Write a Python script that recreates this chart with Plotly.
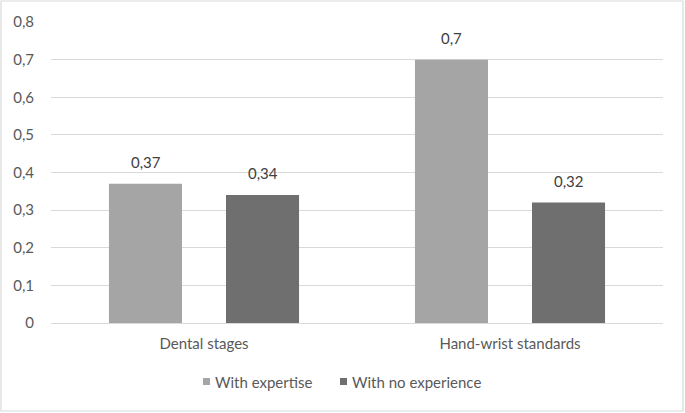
import plotly.graph_objects as go

categories = ["Dental stages", "Hand-wrist standards"]
series_names = ["With expertise", "With no experience"]
with_expertise = [0.37, 0.70]
with_no_experience = [0.34, 0.32]
y_tickvals = [0, 0.1, 0.2, 0.3, 0.4, 0.5, 0.6, 0.7, 0.8]
y_ticktext = ["0", "0,1", "0,2", "0,3", "0,4", "0,5", "0,6", "0,7", "0,8"]

colors = ["#a5a5a5", "#6f6f6f"]
FONT = "Lato, 'Noto Sans', sans-serif"
TXT = "#595959"
FS = 15

W, H = 685, 413
ML, MR, MT, MB = 51, 22, 22, 90
PW, PH = W - ML - MR, H - MT - MB

def px_x(p):
    return (p - ML) / PW

def px_y(p):
    return (H - MB - p) / PH

fig = go.Figure()
for name, vals, col in zip(series_names, [with_expertise, with_no_experience], colors):
    fig.add_trace(go.Bar(x=categories, y=vals, name=name, marker_color=col,
                         marker_line_width=0, showlegend=False))

def fmt(v):
    return ("%g" % v).replace(".", ",")

# data labels
slot_px = 117
for i, vals in enumerate([with_expertise, with_no_experience]):
    shift = (-0.5 if i == 0 else 0.5) * slot_px
    for c, v in zip(categories, vals):
        fig.add_annotation(x=c, y=v, text=fmt(v), showarrow=False, xshift=shift,
                           yanchor="bottom", yshift=11,
                           font=dict(family=FONT, size=FS, color="#404040"))

# legend (square + text)
leg_sq_x = [203, 340]
for name, col, sx in zip(series_names, colors, leg_sq_x):
    fig.add_shape(type="rect", xref="paper", yref="paper",
                  x0=px_x(sx), x1=px_x(sx + 7), y0=px_y(385), y1=px_y(378),
                  line=dict(width=0), fillcolor=col)
    fig.add_annotation(xref="paper", yref="paper", x=px_x(sx + 10), y=px_y(381.5),
                       xanchor="left", yanchor="middle", text=name, showarrow=False,
                       font=dict(family=FONT, size=FS, color=TXT))

# outer border
fig.add_shape(type="rect", xref="paper", yref="paper",
              x0=px_x(1), x1=px_x(683), y0=px_y(411), y1=px_y(1),
              line=dict(color="#d9d9d9", width=1.2), fillcolor="rgba(0,0,0,0)",
              layer="below")

fig.update_layout(
    width=W, height=H,
    margin=dict(l=ML, r=MR, t=MT, b=MB),
    paper_bgcolor="white", plot_bgcolor="white",
    barmode="group", bargap=0.235, bargroupgap=0.376,
    font=dict(family=FONT, size=FS, color=TXT),
    showlegend=False,
    xaxis=dict(showline=False, ticks="", ticklabelstandoff=10,
               tickfont=dict(family=FONT, size=FS, color=TXT)),
    yaxis=dict(range=[0, 0.8], tickvals=y_tickvals, ticktext=y_ticktext,
               showgrid=True, gridcolor="#d9d9d9", gridwidth=1,
               zeroline=True, zerolinecolor="#d9d9d9", zerolinewidth=1,
               ticks="", ticklabelstandoff=16,
               tickfont=dict(family=FONT, size=FS, color=TXT)),
)

fig.write_html("out.html", config={"displayModeBar": False},
               post_script="document.body.style.margin='0';document.body.style.padding='0';")
